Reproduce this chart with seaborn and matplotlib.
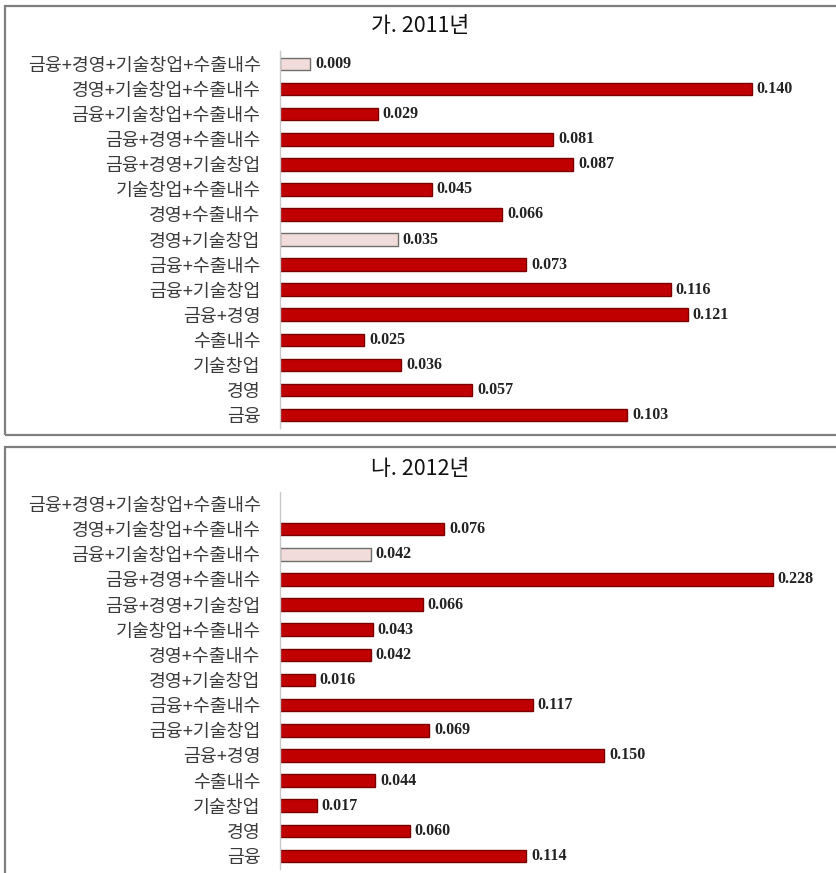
import numpy as np
import pandas as pd
import matplotlib
matplotlib.use("Agg")
import matplotlib.pyplot as plt
from matplotlib.patches import Rectangle
from matplotlib.ticker import FixedLocator
import seaborn as sns

sns.set_style("white")
plt.rcParams["font.family"] = ["Noto Sans CJK KR", "DejaVu Sans"]

# Support program combinations, listed top to bottom
categories = [
    "금융+경영+기술창업+수출내수",
    "경영+기술창업+수출내수",
    "금융+기술창업+수출내수",
    "금융+경영+수출내수",
    "금융+경영+기술창업",
    "기술창업+수출내수",
    "경영+수출내수",
    "경영+기술창업",
    "금융+수출내수",
    "금융+기술창업",
    "금융+경영",
    "수출내수",
    "기술창업",
    "경영",
    "금융",
]

values_2011 = [0.009, 0.140, 0.029, 0.081, 0.087, 0.045, 0.066, 0.035,
               0.073, 0.116, 0.121, 0.025, 0.036, 0.057, 0.103]
values_2012 = [np.nan, 0.076, 0.042, 0.228, 0.066, 0.043, 0.042, 0.016,
               0.117, 0.069, 0.150, 0.044, 0.017, 0.060, 0.114]

# Bars shown in the light shade
light_2011 = ["금융+경영+기술창업+수출내수", "경영+기술창업"]
light_2012 = ["금융+기술창업+수출내수"]

titles = ["가. 2011년", "나. 2012년"]

RED = "#C00000"
RED_EDGE = "#7A0000"
PINK = "#F2DCDB"
PINK_EDGE = "#6E6E6E"

W, H = 836, 873
fig = plt.figure(figsize=(W / 100, H / 100), dpi=100)


def fy(py):
    return 1 - py / H


def draw_panel(ax, values, light, xmax):
    df = pd.DataFrame({
        "category": categories,
        "value": values,
        "group": ["light" if c in light else "dark" for c in categories],
    })
    sns.barplot(data=df, y="category", x="value", hue="group",
                order=categories, hue_order=["dark", "light"],
                palette={"dark": RED, "light": PINK}, saturation=1,
                dodge=False, width=0.5, orient="h", legend=False, ax=ax)
    for patch in ax.patches:
        fc = patch.get_facecolor()
        is_light = fc[0] > 0.9 and fc[1] > 0.8
        patch.set_edgecolor(PINK_EDGE if is_light else RED_EDGE)
        patch.set_linewidth(1.0)
    for i, v in enumerate(values):
        if np.isnan(v):
            continue
        ax.text(v + xmax * 0.009, i, f"{v:.3f}", va="center", ha="left",
                fontsize=11.5, fontweight="bold", family="Liberation Serif",
                color="#222222")
    ax.set_xlim(0, xmax)
    ax.set_ylim(len(categories) - 0.5, -0.5)
    ax.set_xlabel("")
    ax.set_ylabel("")
    ax.set_xticks([])
    for s in ["top", "right", "bottom"]:
        ax.spines[s].set_visible(False)
    ax.spines["left"].set_color("#C8C8C8")
    ax.spines["left"].set_linewidth(1.0)
    ax.yaxis.set_minor_locator(FixedLocator(np.arange(-0.5, len(categories), 1.0)))
    ax.tick_params(axis="y", which="major", length=0, pad=14,
                   labelsize=13.2, labelcolor="#3A3A3A")
    ax.tick_params(axis="y", which="minor", length=4, width=1.0,
                   color="#C8C8C8", direction="out")
    ax.set_facecolor("none")


left = 280 / W
width = 540 / W

ax1 = fig.add_axes([left, fy(427.5), width, (427.5 - 51.5) / H])
draw_panel(ax1, values_2011, light_2011, 0.1602)

ax2 = fig.add_axes([left, fy(868.5), width, (868.5 - 491.5) / H])
draw_panel(ax2, values_2012, light_2012, 0.2498)

fig.text(0.502, fy(26), titles[0], ha="center", va="center",
         fontsize=15.5, color="#111111")
fig.text(0.502, fy(469), titles[1], ha="center", va="center",
         fontsize=15.5, color="#111111")

# Frames around the two panels
frame_kw = dict(transform=fig.transFigure, fill=False,
                edgecolor="#7F7F7F", linewidth=1.6, zorder=0)
fig.patches.append(Rectangle((5 / W, fy(434.5)), (840 - 5) / W,
                             (434.5 - 5.5) / H, **frame_kw))
fig.patches.append(Rectangle((5 / W, fy(880)), (840 - 5) / W,
                             (880 - 447) / H, **frame_kw))

fig.savefig("out.png", dpi=100, facecolor="white")
